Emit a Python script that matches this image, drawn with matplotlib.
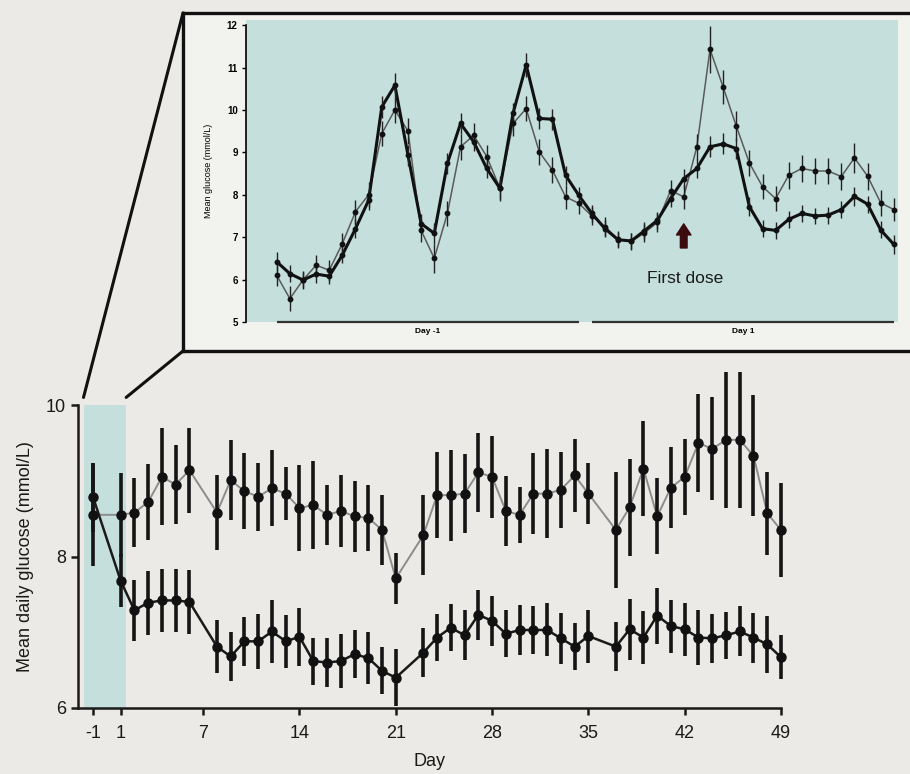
#!/usr/bin/env python3

import numpy as np
import matplotlib.pyplot as plt
from matplotlib.patches import ConnectionPatch

plt.rcParams['font.family'] = ['Liberation Sans', 'DejaVu Sans']

# main chart: study days
days = [-1, 1, 2, 3, 4, 5, 6, 8, 9, 10, 11, 12, 13, 14, 15, 16, 17, 18, 19, 20, 21,
        23, 24, 25, 26, 27, 28, 29, 30, 31, 32, 33, 34, 35,
        37, 38, 39, 40, 41, 42, 43, 44, 45, 46, 47, 48, 49]

# upper series (grey line)
upper_mean = [8.55, 8.55, 8.58, 8.72, 9.05, 8.95, 9.14, 8.58, 9.01, 8.86, 8.79, 8.90, 8.83,
              8.64, 8.68, 8.55, 8.60, 8.53, 8.51, 8.35, 7.71,
              8.28, 8.81, 8.81, 8.83, 9.11, 9.05, 8.60, 8.55, 8.83, 8.83, 8.88, 9.07, 8.83,
              8.35, 8.65, 9.16, 8.53, 8.91, 9.05, 9.50, 9.42, 9.54, 9.54, 9.33, 8.57, 8.35]
upper_err = [0.68, 0.55, 0.45, 0.50, 0.64, 0.52, 0.56, 0.50, 0.53, 0.50, 0.45, 0.50, 0.35,
             0.57, 0.58, 0.40, 0.47, 0.47, 0.44, 0.46, 0.34,
             0.53, 0.57, 0.60, 0.52, 0.52, 0.54, 0.46, 0.37, 0.53, 0.59, 0.50, 0.48, 0.40,
             0.77, 0.64, 0.63, 0.50, 0.54, 0.50, 0.65, 0.68, 0.90, 0.90, 0.80, 0.55, 0.62]

# lower series (black line)
lower_mean = [8.78, 7.68, 7.29, 7.39, 7.42, 7.42, 7.40, 6.81, 6.68, 6.88, 6.88, 7.01, 6.88,
              6.94, 6.62, 6.60, 6.62, 6.71, 6.66, 6.49, 6.40,
              6.73, 6.93, 7.06, 6.96, 7.23, 7.15, 6.98, 7.03, 7.03, 7.03, 6.92, 6.81, 6.95,
              6.81, 7.04, 6.93, 7.22, 7.08, 7.04, 6.93, 6.92, 6.96, 7.01, 6.93, 6.84, 6.67]
lower_err = [0.45, 0.35, 0.40, 0.42, 0.42, 0.42, 0.42, 0.35, 0.32, 0.32, 0.36, 0.42, 0.35,
             0.38, 0.31, 0.32, 0.36, 0.32, 0.34, 0.31, 0.38,
             0.32, 0.31, 0.31, 0.33, 0.33, 0.33, 0.31, 0.33, 0.32, 0.35, 0.34, 0.31, 0.35,
             0.32, 0.40, 0.35, 0.37, 0.35, 0.35, 0.36, 0.32, 0.31, 0.33, 0.33, 0.38, 0.29]

xtick_days = [-1, 1, 7, 14, 21, 28, 35, 42, 49]
shade_lo, shade_hi = -1.7, 1.4

# inset: hourly means, day -1 then day 1
hours = list(range(48))
dark_mean = [6.42, 6.14, 5.99, 6.13, 6.08, 6.58, 7.20, 7.87, 10.07, 10.58, 8.93, 7.32,
             7.09, 8.74, 9.68, 9.25, 8.62, 8.15, 9.92, 11.06, 9.80, 9.78, 8.46, 7.99,
             7.56, 7.20, 6.94, 6.91, 7.15, 7.40, 7.91, 8.38, 8.62, 9.13, 9.20, 9.09,
             7.72, 7.20, 7.16, 7.42, 7.56, 7.50, 7.52, 7.65, 7.96, 7.78, 7.17, 6.83]
dark_err = [0.22, 0.2, 0.18, 0.2, 0.18, 0.2, 0.22, 0.22, 0.25, 0.28, 0.25, 0.22,
            0.25, 0.25, 0.25, 0.22, 0.22, 0.25, 0.25, 0.28, 0.25, 0.25, 0.22, 0.2,
            0.2, 0.2, 0.18, 0.18, 0.2, 0.2, 0.2, 0.22, 0.22, 0.25, 0.25, 0.25,
            0.22, 0.2, 0.2, 0.2, 0.2, 0.18, 0.2, 0.2, 0.22, 0.2, 0.2, 0.22]
light_mean = [6.10, 5.55, 5.99, 6.34, 6.22, 6.85, 7.60, 8.00, 9.44, 10.00, 9.50, 7.16,
              6.50, 7.56, 9.13, 9.40, 8.90, 8.15, 9.68, 10.03, 9.01, 8.58, 7.95, 7.80,
              7.50, 7.25, 6.95, 6.90, 7.10, 7.35, 8.10, 7.95, 9.13, 11.43, 10.54, 9.62,
              8.75, 8.19, 7.91, 8.46, 8.62, 8.56, 8.56, 8.43, 8.87, 8.44, 7.81, 7.65]
light_err = [0.25, 0.3, 0.22, 0.25, 0.25, 0.25, 0.28, 0.3, 0.3, 0.3, 0.3, 0.28,
             0.35, 0.3, 0.3, 0.28, 0.28, 0.3, 0.3, 0.3, 0.3, 0.3, 0.28, 0.25,
             0.22, 0.22, 0.2, 0.2, 0.22, 0.22, 0.25, 0.28, 0.3, 0.55, 0.4, 0.35,
             0.3, 0.3, 0.3, 0.32, 0.32, 0.3, 0.3, 0.32, 0.35, 0.32, 0.3, 0.28]
first_dose_hour = 31

bg = '#ebeae6'
teal = '#c5e0dc'
W, H = 910, 774


def box(l, t, r, b):
    # pixel box -> figure fraction
    return [l / W, 1 - b / H, (r - l) / W, (b - t) / H]


def main():
    fig = plt.figure(figsize=(W / 100, H / 100), dpi=100, facecolor=bg)

    # main chart
    ax = fig.add_axes(box(78, 405, 781, 708))
    ax.set_facecolor(bg)
    ax.axvspan(shade_lo, shade_hi, color=teal, zorder=0, lw=0)
    ax.plot(days, upper_mean, color='#8c8c8c', lw=1.4, zorder=2)
    ax.plot(days, lower_mean, color='#1a1a1a', lw=1.8, zorder=2)
    for m, e in [(upper_mean, upper_err), (lower_mean, lower_err)]:
        eb = ax.errorbar(days, m, yerr=e, fmt='none', ecolor='#151515', elinewidth=2.6,
                         capsize=0, zorder=3)
        for c in eb.get_children():
            c.set_clip_on(False)
        ax.plot(days, m, 'o', color='#111111', ms=6.5, zorder=4, clip_on=False)

    ax.set_xlim(-2.1, 49)
    ax.set_ylim(6, 10)
    ax.set_xticks(xtick_days)
    ax.set_xticklabels([str(d) for d in xtick_days])
    ax.set_yticks([6, 8, 10])
    for s in ['top', 'right']:
        ax.spines[s].set_visible(False)
    for s in ['left', 'bottom']:
        ax.spines[s].set_linewidth(1.8)
        ax.spines[s].set_color('#1a1a1a')
    ax.tick_params(length=5, width=1.8, labelsize=13, color='#1a1a1a', labelcolor='#1a1a1a')
    ax.tick_params(axis='x', pad=7)
    ax.set_xlabel('Day', fontsize=13, color='#1a1a1a', labelpad=8)
    ax.set_ylabel('Mean daily glucose (mmol/L)', fontsize=13, color='#1a1a1a', labelpad=9)

    # inset frame
    frame = fig.add_axes(box(183, 13, 935, 351))
    frame.set_facecolor('#f2f2ef')
    frame.set_xticks([])
    frame.set_yticks([])
    for s in frame.spines.values():
        s.set_linewidth(2.4)
        s.set_color('#111111')

    ins = fig.add_axes(box(246, 20, 898, 322))
    ins.set_facecolor(teal)
    ins.plot(hours, light_mean, color='#5a5a5a', lw=1.1, zorder=2)
    ins.plot(hours, dark_mean, color='#111111', lw=2.2, zorder=3)
    for m, e in [(light_mean, light_err), (dark_mean, dark_err)]:
        ins.errorbar(hours, m, yerr=e, fmt='none', ecolor='#222222', elinewidth=1.0,
                     capsize=0, zorder=4)
        ins.plot(hours, m, 'o', color='#111111', ms=3.2, zorder=5)

    ins.set_xlim(-2.34, 47.32)
    ins.set_ylim(5, 12.12)
    ins.set_yticks(range(5, 13))
    ins.set_xticks([])
    for s in ['top', 'right', 'bottom']:
        ins.spines[s].set_visible(False)
    ins.spines['left'].set_bounds(5, 12)
    ins.spines['left'].set_linewidth(1.2)
    ins.tick_params(axis='y', length=3, width=1.0, labelsize=7, pad=3)
    for lab in ins.get_yticklabels():
        lab.set_fontweight('bold')
    ins.set_ylabel('Mean glucose (mmol/L)', fontsize=6.5, labelpad=10)

    # day brackets under the inset
    for d, (h0, h1) in [('Day -1', (hours[0], hours[23])), ('Day 1', (hours[24], hours[47]))]:
        ins.plot([h0, h1], [5, 5], color='#333333', lw=1.6, clip_on=False, solid_capstyle='butt')
        ins.annotate(d, xy=((h0 + h1) / 2, 5), xytext=(0, -4), textcoords='offset points',
                     ha='center', va='top', fontsize=6, fontweight='bold', annotation_clip=False)

    ins.annotate('', xy=(first_dose_hour, 7.38), xytext=(first_dose_hour, 6.68),
                 arrowprops=dict(arrowstyle='simple,head_length=0.5,head_width=0.65,tail_width=0.3',
                                 fc='#3b0b0e', ec='#3b0b0e', mutation_scale=16))
    ins.text(first_dose_hour + 0.1, 6.03, 'First dose', ha='center', va='center', fontsize=12.5,
             color='#1a1a1a')

    # zoom connector lines
    for ya, xb in [(1, shade_lo), (0, shade_hi)]:
        con = ConnectionPatch(xyA=(0, ya), coordsA=frame.transAxes, xyB=(xb, 10.1),
                              coordsB=ax.transData, color='#111111', lw=2.2)
        fig.add_artist(con)

    fig.savefig('out.png', dpi=100, facecolor=bg)


if __name__ == "__main__":
    main()
